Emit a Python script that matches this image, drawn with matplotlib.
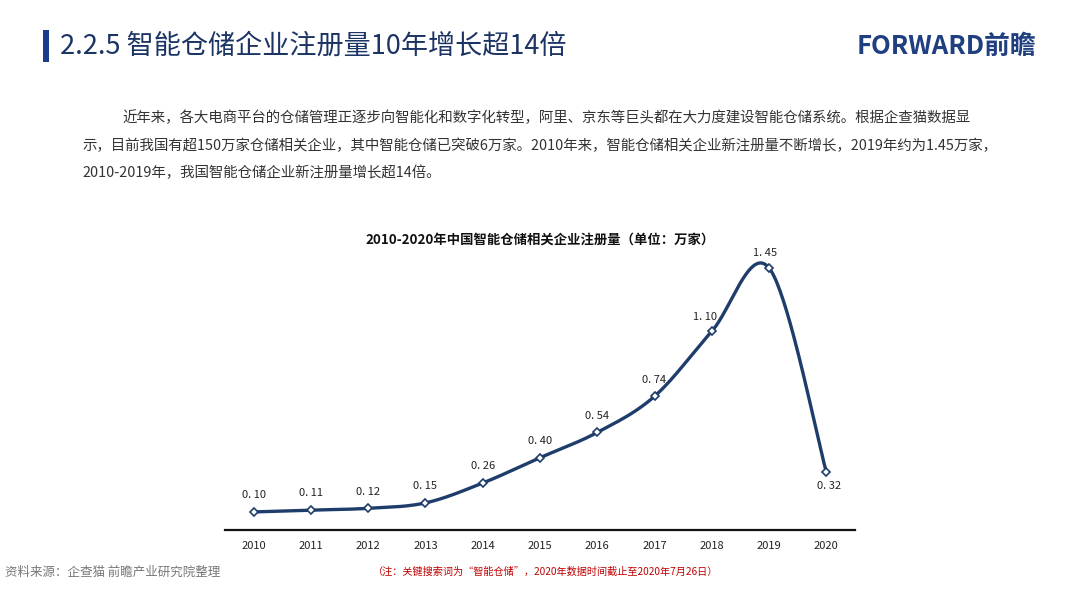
import numpy as np
import matplotlib
matplotlib.use("Agg")
import matplotlib.pyplot as plt
from matplotlib.patches import Rectangle

plt.rcParams['font.family'] = ['Noto Sans CJK SC', 'DejaVu Sans']

years = [2010, 2011, 2012, 2013, 2014, 2015, 2016, 2017, 2018, 2019, 2020]
values = [0.10, 0.11, 0.12, 0.15, 0.26, 0.40, 0.54, 0.74, 1.10, 1.45, 0.32]
year_labels = [str(y) for y in years]

page_title = "2.2.5 智能仓储企业注册量10年增长超14倍"
chart_title = "2010-2020年中国智能仓储相关企业注册量（单位：万家）"
para_lines = [
    "近年来，各大电商平台的仓储管理正逐步向智能化和数字化转型，阿里、京东等巨头都在大力度建设智能仓储系统。根据企查猫数据显",
    "示，目前我国有超150万家仓储相关企业，其中智能仓储已突破6万家。2010年来，智能仓储相关企业新注册量不断增长，2019年约为1.45万家，",
    "2010-2019年，我国智能仓储企业新注册量增长超14倍。",
]
source_text = "资料来源：企查猫 前瞻产业研究院整理"
note_text = "（注：关键搜索词为“智能仓储”，2020年数据时间截止至2020年7月26日）"

W, H = 1080, 595
fig = plt.figure(figsize=(W / 100, H / 100), dpi=100)
fig.patch.set_facecolor("white")

def fx(px):
    return px / W

def fy(py):
    return 1 - py / H

navy = "#1f3d6b"

# header bar
fig.patches.append(Rectangle((fx(43), fy(62)), fx(6), 32 / H, transform=fig.transFigure,
                             facecolor="#1b3a8c", edgecolor="none"))
fig.text(fx(60), fy(46), page_title, fontsize=19.5, color="#1c3464", va="center", ha="left")
fig.text(fx(1036), fy(46), "FORWARD前瞻", fontsize=18.5, color="#1f3f80", va="center",
         ha="right", fontweight="bold")

# paragraph
pfs = 10.4
fig.text(fx(122), fy(118), para_lines[0], fontsize=pfs, color="#333333", va="center", ha="left")
fig.text(fx(82), fy(146), para_lines[1], fontsize=pfs, color="#333333", va="center", ha="left")
fig.text(fx(82), fy(173), para_lines[2], fontsize=pfs, color="#333333", va="center", ha="left")

# chart title
fig.text(fx(540), fy(240), chart_title, fontsize=9.6, fontweight="bold", color="#111111",
         va="center", ha="center")

# footer
fig.text(fx(5), fy(572), source_text, fontsize=9, color="#777777", va="center", ha="left")
fig.text(fx(373), fy(572), note_text, fontsize=7.3, color="#c00000", va="center", ha="left")

# axes
left, right, bottom, top = 225, 855, 530, 255
ax = fig.add_axes([fx(left), fy(bottom), fx(right - left), (bottom - top) / H])
x = np.arange(len(years))
v = np.array(values)
ymax = (bottom - top) / 180.7
ax.set_xlim(-0.5, len(years) - 0.5)
ax.set_ylim(0, ymax)

# smooth curve (Catmull-Rom / Excel-style smoothing) through the data points
pts = np.column_stack([x, v]).astype(float)
ext = np.vstack([pts[0], pts, pts[-1]])
curve = []
t = np.linspace(0, 1, 40)
for i in range(len(pts) - 1):
    p0, p1, p2, p3 = ext[i], ext[i + 1], ext[i + 2], ext[i + 3]
    c1 = p1 + (p2 - p0) / 6
    c2 = p2 - (p3 - p1) / 6
    seg = ((1 - t) ** 3)[:, None] * p1 + (3 * (1 - t) ** 2 * t)[:, None] * c1 + \
          (3 * (1 - t) * t ** 2)[:, None] * c2 + (t ** 3)[:, None] * p2
    curve.append(seg)
curve = np.vstack(curve)
ax.plot(curve[:, 0], curve[:, 1], color=navy, lw=2.4, solid_capstyle="round", zorder=2)
ax.plot(x, v, linestyle="none", marker="D", markersize=4.5, markerfacecolor="white",
        markeredgecolor=navy, markeredgewidth=1.2, zorder=3)

for i, val in enumerate(values):
    lab = f"{val:.2f}".replace(".", ". ")
    if i == len(values) - 1:
        ax.annotate(lab, (x[i], val), xytext=(2, -10), textcoords="offset points",
                    ha="center", va="center", fontsize=8, color="#222222")
    elif i == len(values) - 2:
        ax.annotate(lab, (x[i], val), xytext=(-3, 11), textcoords="offset points",
                    ha="center", va="center", fontsize=8, color="#222222")
    elif i == len(values) - 3:
        ax.annotate(lab, (x[i], val), xytext=(-5, 10), textcoords="offset points",
                    ha="center", va="center", fontsize=8, color="#222222")
    else:
        ax.annotate(lab, (x[i], val), xytext=(0, 12), textcoords="offset points",
                    ha="center", va="center", fontsize=8, color="#222222")

ax.set_xticks(x)
ax.set_xticklabels(year_labels, fontsize=8, color="#222222")
ax.tick_params(axis="x", length=0, pad=8)
ax.set_yticks([])
for s in ["left", "right", "top"]:
    ax.spines[s].set_visible(False)
ax.spines["bottom"].set_color("#111111")
ax.spines["bottom"].set_linewidth(1.6)
ax.patch.set_alpha(0)

fig.savefig("out.png", dpi=100, facecolor="white")
